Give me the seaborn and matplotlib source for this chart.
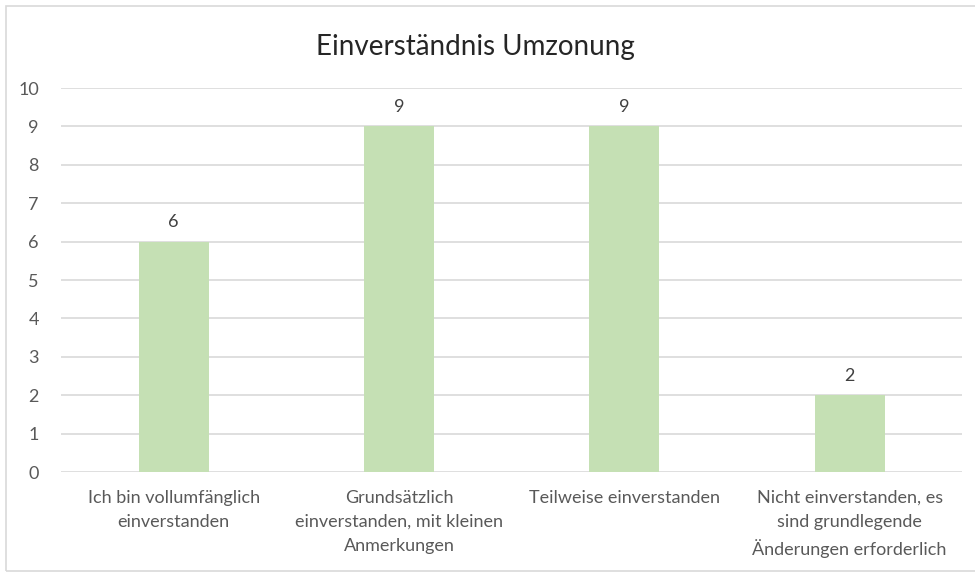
import matplotlib
matplotlib.use("Agg")
import matplotlib.pyplot as plt
import seaborn as sns
import pandas as pd
from matplotlib.patches import Rectangle

categories = [
    "Ich bin vollumfänglich\neinverstanden",
    "Grundsätzlich\neinverstanden, mit kleinen\nAnmerkungen",
    "Teilweise einverstanden",
    "Nicht einverstanden, es\nsind grundlegende\nÄnderungen erforderlich",
]
counts = [6, 9, 9, 2]
y_ticks = list(range(0, 11))

df = pd.DataFrame({"Antwort": categories, "Anzahl": counts})

sns.set_style("white")
plt.rcParams['font.family'] = ['Lato', 'DejaVu Sans']

fig = plt.figure(figsize=(9.75, 5.72), dpi=100)
ax = fig.add_axes([0.0626, 0.1748, 0.9244, 0.6713])

sns.barplot(data=df, x="Antwort", y="Anzahl", color="#C5E0B4", width=0.31,
            saturation=1, ax=ax, zorder=3, linewidth=0)

text_col = "#595959"
for i, v in enumerate(counts):
    ax.text(i, v + 0.3, str(v), ha="center", va="bottom", fontsize=13, color="#404040")

ax.set_ylim(0, 10)
ax.set_xlim(-0.5, len(categories) - 0.5)
ax.set_yticks(y_ticks)
ax.yaxis.grid(True, color="#D9D9D9", linewidth=1.2, zorder=0)
ax.set_axisbelow(True)
ax.tick_params(axis="both", length=0, labelsize=13, colors=text_col)
ax.tick_params(axis="x", pad=13)
ax.tick_params(axis="y", pad=16)
for lbl in ax.get_xticklabels():
    lbl.set_linespacing(1.6)
ax.set_xlabel("")
ax.set_ylabel("")
sns.despine(ax=ax, left=True, bottom=True)

fig.text(475 / 975, 1 - 47 / 572, "Einverständnis Umzonung", ha="center", va="center",
         fontsize=20, color="#262626")

fig.patches.append(Rectangle((6 / 975, 0.002), 0.995, 1 - 6 / 572 - 0.002, transform=fig.transFigure,
                             fill=False, edgecolor="#D9D9D9", linewidth=1.2))

fig.savefig("out.png", dpi=100)
